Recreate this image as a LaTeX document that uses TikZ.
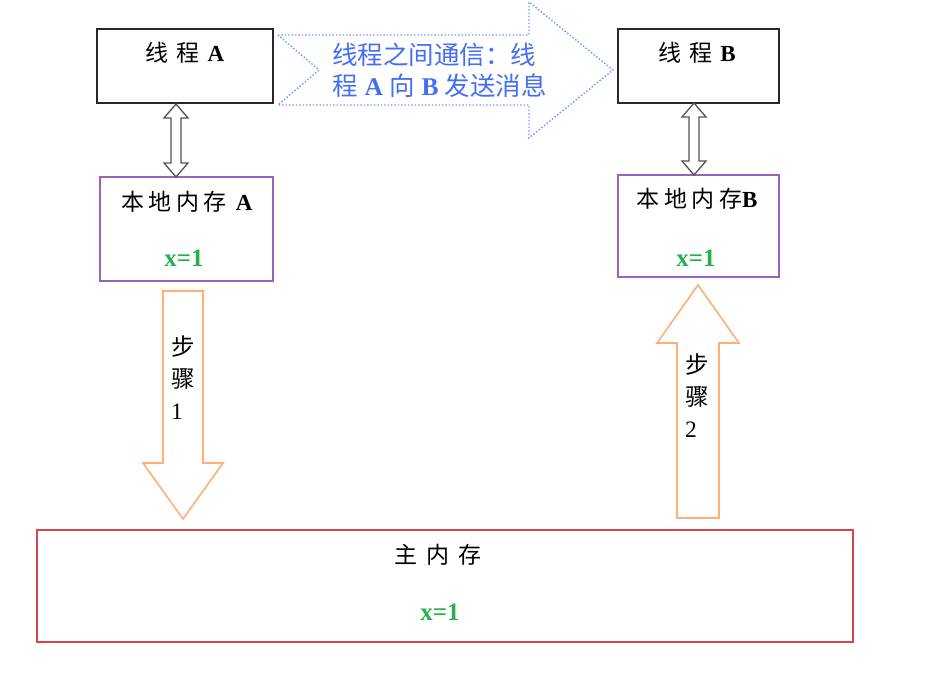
\documentclass[tikz,border=0pt]{standalone}
\usepackage{fontspec}
\setmainfont{Liberation Serif}
\newfontfamily\cjk{Noto Sans CJK SC}
\definecolor{boxgray}{RGB}{40,40,40}
\definecolor{mempurple}{RGB}{150,100,190}
\definecolor{mainred}{RGB}{215,70,70}
\definecolor{steporange}{RGB}{255,175,120}
\definecolor{msgblue}{RGB}{110,150,250}
\definecolor{msgtext}{RGB}{70,110,245}
\definecolor{valgreen}{RGB}{40,175,80}
\newcommand{\gp}[1]{\hspace{#1pt}}
\tikzset{
  threadbox/.style={draw=boxgray, line width=1.8pt},
  membox/.style={draw=mempurple, line width=1.5pt},
  mainbox/.style={draw=mainred, line width=1.5pt},
  dblarrow/.style={draw=boxgray!80, line width=1.3pt, fill=white},
  steparrow/.style={draw=steporange, line width=1.6pt, fill=white},
  msgarrow/.style={draw=msgblue, line width=1.4pt, dotted},
  lbl/.style={inner sep=0pt, font=\fontsize{23}{26}\selectfont\cjk},
  val/.style={inner sep=0pt, text=valgreen, font=\fontsize{25}{28}\selectfont\bfseries},
  steplbl/.style={inner sep=0pt, align=left, anchor=north west, font=\fontsize{23.5}{32}\selectfont\cjk},
}
\begin{document}
\begin{tikzpicture}[x=1pt,y=-1pt]
\useasboundingbox (0,0) rectangle (942,682);
% message arrow
\draw[msgarrow] (278,35) -- (529,35) -- (529,2) -- (613,70) -- (529,138) -- (529,105) -- (278,105) -- (319,70) -- cycle;
\node[inner sep=0pt, anchor=north west, align=left, text=msgtext,
  font=\fontsize{25.5}{31}\selectfont\cjk] (msg) at (332,43)
  {线程之间通信：线\\程\gp{7}{\rmfamily\bfseries A}\gp{6}向\gp{7}{\rmfamily\bfseries B}\gp{6}发送消息};
% thread boxes
\draw[threadbox] (97,29) rectangle (273,103);
\node[lbl] (tA) at (185,53) {线\gp{8}程\gp{8}{\rmfamily\bfseries A}};
\draw[threadbox] (618,29) rectangle (779,103);
\node[lbl] (tB) at (697,53) {线\gp{8}程\gp{8}{\rmfamily\bfseries B}};
% local memory boxes
\draw[membox] (100,177) rectangle (273,281);
\node[lbl] (mA) at (187,202) {本\gp{4.5}地\gp{4.5}内\gp{4.5}存\gp{9}{\rmfamily\bfseries A}};
\node[val] (vA) at (184,258) {x=1};
\draw[membox] (618,175) rectangle (779,277);
\node[lbl] (mB) at (697,199) {本\gp{4.5}地\gp{4.5}内\gp{4.5}存{\rmfamily\bfseries B}};
\node[val] (vB) at (696,258) {x=1};
% double arrows
\draw[dblarrow] (176,104) -- (188,118) -- (181,118) -- (181,163) -- (188,163) -- (176,177)
  -- (164,163) -- (171,163) -- (171,118) -- (164,118) -- cycle;
\draw[dblarrow] (694,103) -- (706,117) -- (699,117) -- (699,161) -- (706,161) -- (694,175)
  -- (682,161) -- (689,161) -- (689,117) -- (682,117) -- cycle;
% step arrows
\draw[steparrow] (163,291) -- (203,291) -- (203,463) -- (223,463) -- (183,519) -- (143,463) -- (163,463) -- cycle;
\node[steplbl] (s1) at (171,336) {步\\骤\\{\rmfamily 1}};
\draw[steparrow] (677,518) -- (719,518) -- (719,343) -- (739,343) -- (698,285) -- (657,343) -- (677,343) -- cycle;
\node[steplbl] (s2) at (685,354) {步\\骤\\{\rmfamily 2}};
% main memory
\draw[mainbox] (37,530) rectangle (853,642);
\node[lbl] (mm) at (438,555) {主\gp{9}内\gp{9}存};
\node[val] (vm) at (440,612) {x=1};
\end{tikzpicture}
\end{document}
